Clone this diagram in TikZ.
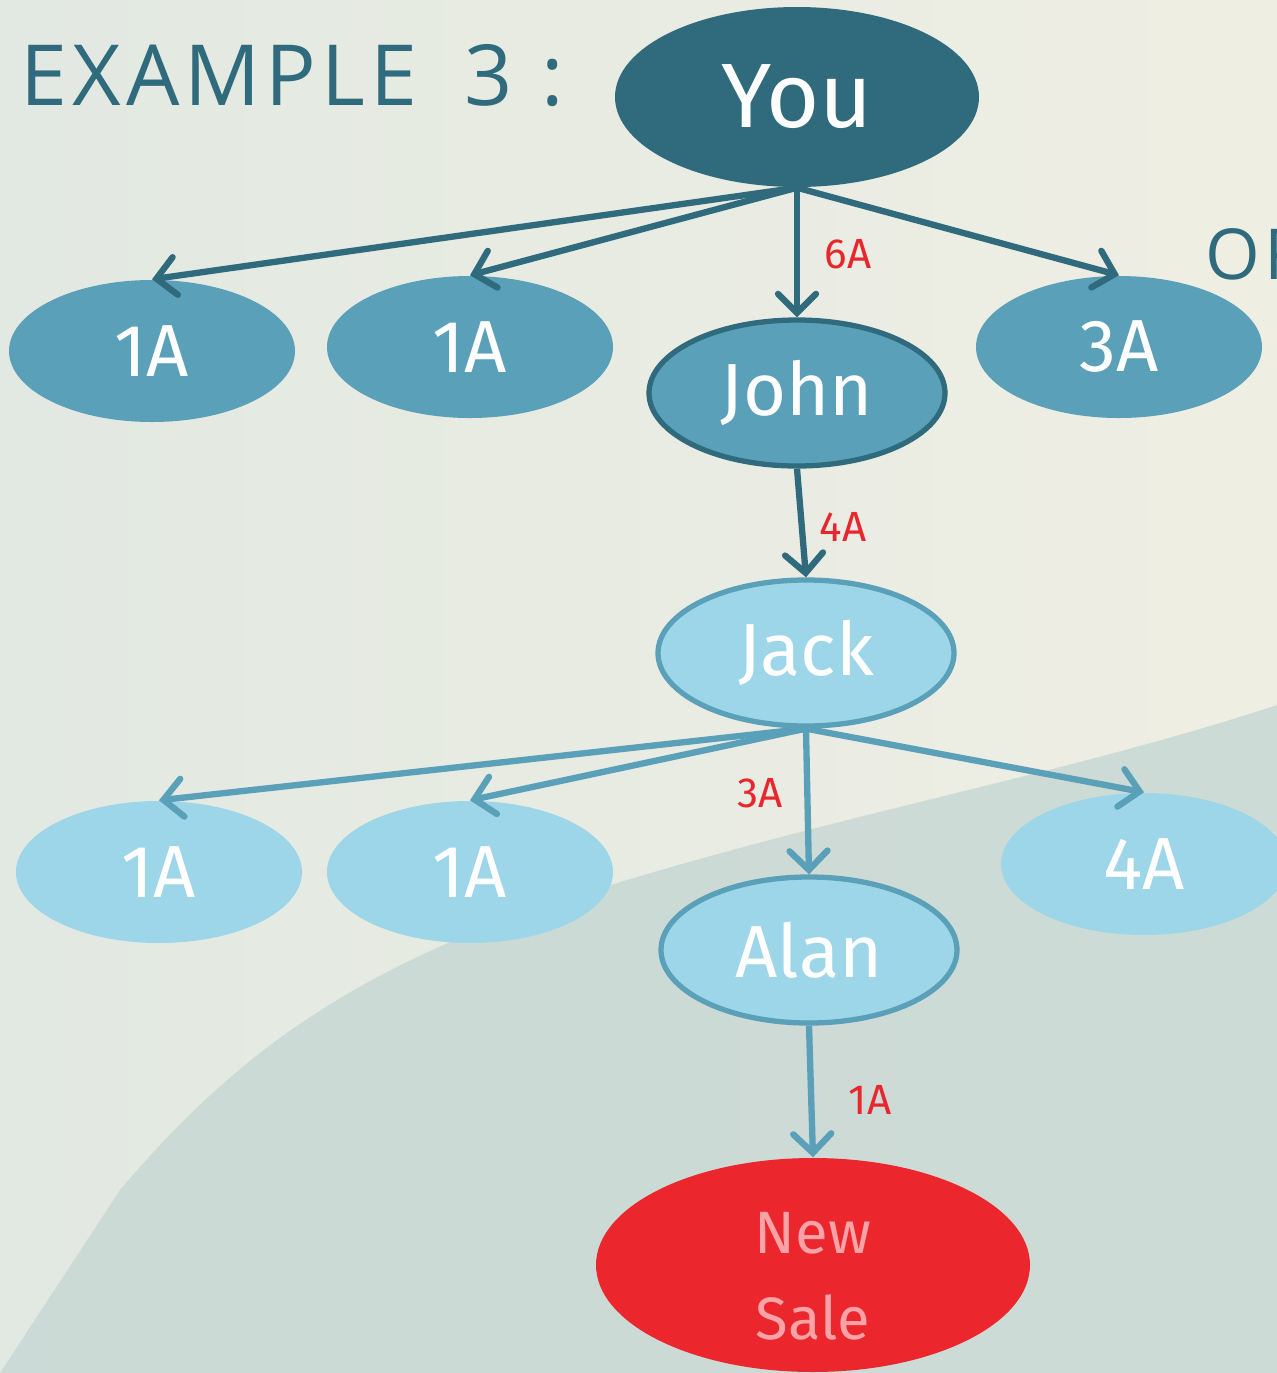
\documentclass[tikz,border=0pt]{standalone}
\usepackage{fontspec}
\setmainfont{Fira Sans}
\newfontfamily\titlefont[LetterSpace=6]{Open Sans}
\usetikzlibrary{positioning}
\usetikzlibrary{shapes.geometric}
\usetikzlibrary{arrows.meta}
\definecolor{darkteal}{HTML}{2F6B7C}
\definecolor{midblue}{HTML}{5AA0B8}
\definecolor{lightblue}{HTML}{9DD6E9}
\definecolor{salered}{HTML}{EC262D}
\definecolor{salepink}{HTML}{F9A3A6}
\definecolor{labelred}{HTML}{E8262D}
\definecolor{paperleft}{HTML}{E2E9E2}
\definecolor{paperright}{HTML}{EFEEE3}
\definecolor{shadow}{HTML}{C8D8D4}

\begin{document}
\begin{tikzpicture}[
                          younode/.style={ellipse, fill=darkteal, text=white, minimum width=3.64cm, minimum height=1.8cm, inner sep=0pt, font=\fontsize{26}{30}\selectfont},
                          levelone/.style={ellipse, fill=midblue, text=white, minimum width=2.86cm, minimum height=1.42cm, inner sep=0pt, font=\fontsize{21}{25}\selectfont},
                          leveltwo/.style={ellipse, fill=lightblue, text=white, minimum width=2.86cm, minimum height=1.42cm, inner sep=0pt, font=\fontsize{21}{25}\selectfont},
                          johnnode/.style={levelone, draw=darkteal, line width=1.5pt, minimum width=2.96cm, minimum height=1.46cm},
                          chainnode/.style={leveltwo, draw=midblue, line width=1.5pt, minimum width=2.96cm, minimum height=1.46cm},
                          salenode/.style={ellipse, fill=salered, text=salepink, minimum width=4.34cm, minimum height=2.14cm, inner sep=0pt, align=center, font=\fontsize{17}{24.5}\selectfont},
                          amount/.style={text=labelred, inner sep=0pt, font=\fontsize{12}{14}\selectfont},
                          titletext/.style={text=darkteal, anchor=base west, inner sep=0pt},
                          darkarrow/.style={draw=darkteal, line width=1.8pt, -{Straight Barb[length=1.9mm, width=3.8mm, line cap=round]}},
                          lightarrow/.style={draw=midblue, line width=1.8pt, -{Straight Barb[length=1.9mm, width=3.8mm, line cap=round]}},
                      ]
                      % Background
                      \clip (0,0) rectangle (12.77,-13.73);
                      \shade[left color=paperleft, right color=paperright] (0,0) rectangle (12.77,-13.73);
                      \fill[shadow, opacity=0.85] (0,-13.73) -- (1.2,-11.9) .. controls (2.3,-10.6) and (3.4,-9.8) .. (5.23,-9.13)
                          .. controls (8,-8.2) and (10.5,-7.8) .. (12.77,-7.05) -- (12.77,-13.73) -- cycle;

                      % Nodes
                      \node[titletext, font=\titlefont\fontsize{24}{30}\selectfont] (title) at (0.2,-1.05) {EXAMPLE\hspace{0.55em}3\hspace{0.35em}:};
                      \node[titletext, font=\titlefont\fontsize{20}{24}\selectfont] (orword) at (12.05,-2.79) {OR};

                      \node[younode]        (you)       at (7.97,-0.97)     {You};

                      \node[levelone]       (one_1)     at (1.52,-3.51)     {1A};
                      \node[levelone]       (one_2)     at (4.70,-3.47)     {1A};
                      \node[johnnode]       (john)      at (7.97,-3.93)     {John};
                      \node[levelone]       (three_1)   at (11.19,-3.47)    {3A};

                      \node[chainnode]      (jack)      at (8.06,-6.53)     {Jack};

                      \node[leveltwo]       (one_3)     at (1.59,-8.72)     {1A};
                      \node[leveltwo]       (one_4)     at (4.70,-8.72)     {1A};
                      \node[chainnode]      (alan)      at (8.09,-9.50)     {Alan};
                      \node[leveltwo]       (four_1)    at (11.44,-8.64)    {4A};

                      \node[salenode]       (sale)      at (8.13,-12.65)    {\rule{0pt}{18pt}New\\Sale};

                      % Amounts
                      \node[amount]         (six_a)     at (8.48,-2.54)     {6A};
                      \node[amount]         (four_a)    at (8.43,-5.27)     {4A};
                      \node[amount]         (three_a)   at (7.60,-7.93)     {3A};
                      \node[amount]         (one_a)     at (8.70,-11.00)    {1A};

                      %Lines
                      \draw[darkarrow] (you.south) -- (one_1.north);
                      \draw[darkarrow] (you.south) -- (one_2.north);
                      \draw[darkarrow] (you.south) -- (john.north);
                      \draw[darkarrow] (you.south) -- (three_1.north);
                      \draw[darkarrow] (john.south) -- (jack.north);
                      \draw[lightarrow] (jack.south) -- (one_3.north);
                      \draw[lightarrow] (jack.south) -- (one_4.north);
                      \draw[lightarrow] (jack.south) -- (alan.north);
                      \draw[lightarrow] (jack.south) -- (four_1.north);
                      \draw[lightarrow] (alan.south) -- (sale.north);
                  \end{tikzpicture}
\end{document}
